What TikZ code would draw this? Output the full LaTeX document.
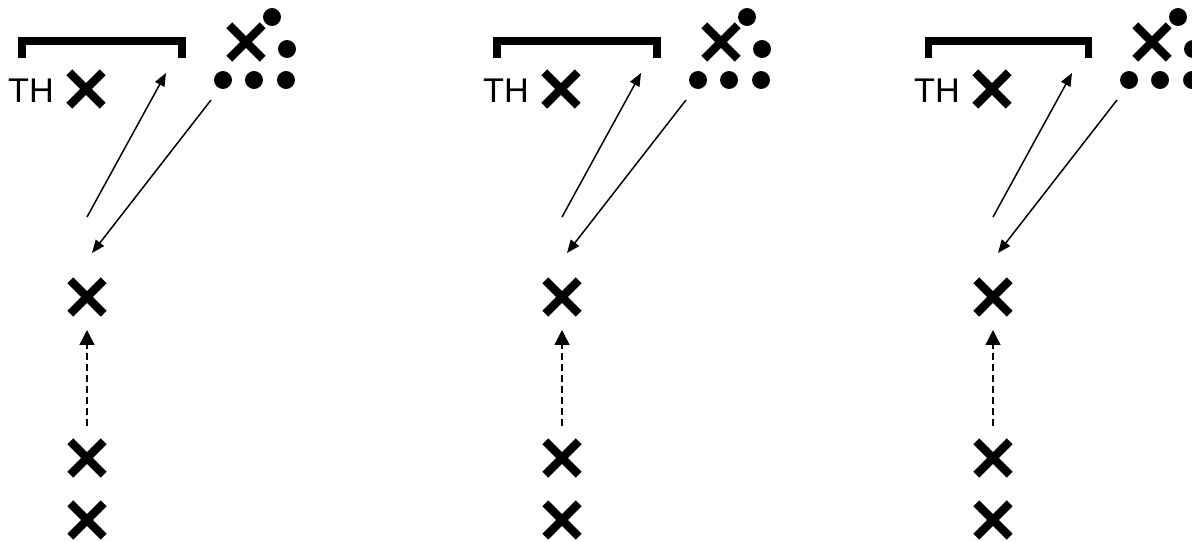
\documentclass[tikz,border=0pt]{standalone}
\usepackage{fontspec}
\setmainfont{Liberation Sans}
\usetikzlibrary{arrows.meta,shapes.misc}

\tikzset{
  player/.style={cross out, draw, line width=4.7pt, minimum size=14.3pt, inner sep=0pt},
  ball/.style={circle, fill, minimum size=10.2pt, inner sep=0pt},
  thlabel/.style={inner sep=0pt, font=\fontsize{19.5}{22}\selectfont},
  pass/.style={line width=0.85pt, -{Triangle[length=7.4pt,width=5.9pt]}},
  run/.style={line width=0.85pt, dash pattern=on 4pt off 2.3pt, -{Triangle[length=8.5pt,width=8.5pt]}}
}

\begin{document}
\begin{tikzpicture}[x=0.02cm, y=-0.02cm]
  \useasboundingbox (0,0) rectangle (1192,541);
  \clip (0,0) rectangle (1192,541);
  \fill[white] (0,0) rectangle (1192,541);
  \foreach \dx/\p in {0/a, 475/b, 906/c} {
    \begin{scope}[shift={(\dx,0)}]
      % bracket
      \draw[line width=4pt] (22,58) -- (22,41) -- (182,41) -- (182,58);
      \node[thlabel] (th\p) at (31,91) {TH};
      \node[player] (x\p) at (86,89) {};
      % upper right group
      \node[player] (top\p) at (246,42) {};
      \node[ball] (b1\p) at (272,17) {};
      \node[ball] (b2\p) at (287,49) {};
      \node[ball] (b3\p) at (223,80) {};
      \node[ball] (b4\p) at (254,80) {};
      \node[ball] (b5\p) at (286,80) {};
      % lower players
      \node[player] (p1\p) at (87,297) {};
      \node[player] (p2\p) at (87,458) {};
      \node[player] (p3\p) at (87,520) {};
      % arrow ends
      \coordinate (s1\p) at (87,217);
      \coordinate (e1\p) at (166,73);
      \coordinate (s2\p) at (211,100);
      \coordinate (e2\p) at (92,253);
      \coordinate (s3\p) at (87,426);
      \coordinate (e3\p) at (87,330);
      \draw[pass] (s1\p) -- (e1\p);
      \draw[pass] (s2\p) -- (e2\p);
      \draw[run] (s3\p) -- (e3\p);
    \end{scope}
  }
\end{tikzpicture}
\end{document}
